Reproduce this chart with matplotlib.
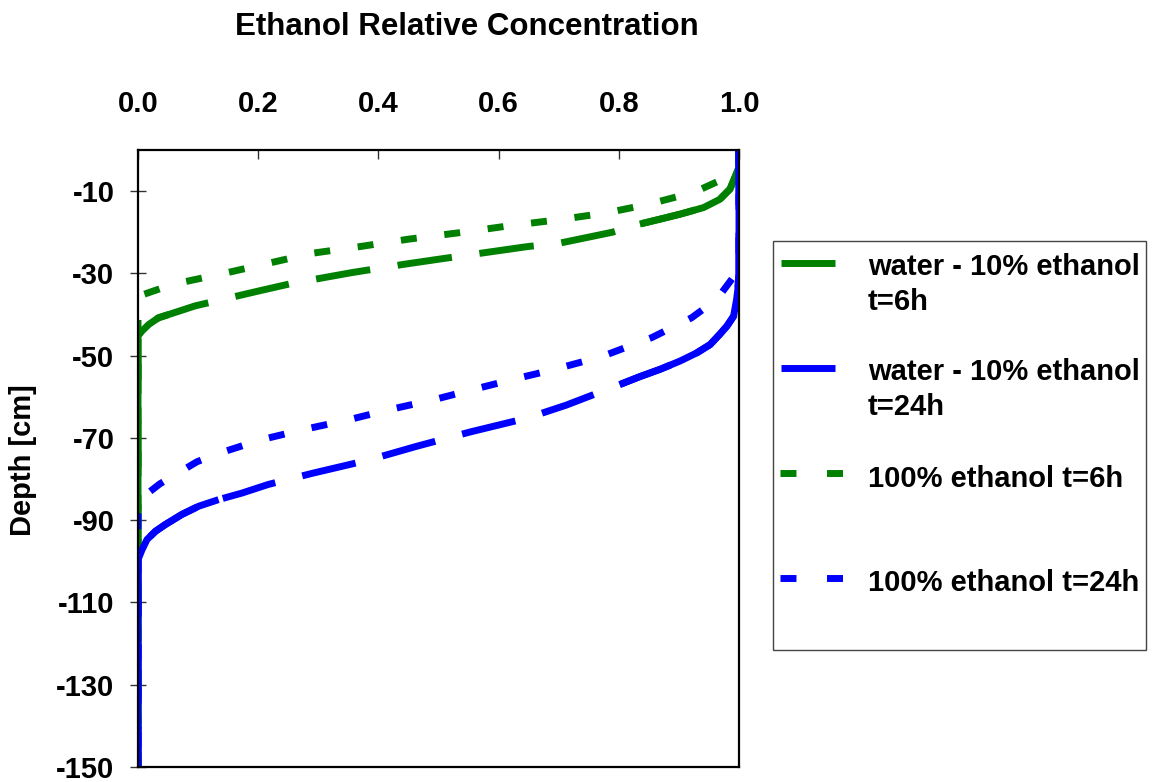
import matplotlib
matplotlib.use("Agg")
import matplotlib.pyplot as plt
from matplotlib.lines import Line2D
from matplotlib.patches import Rectangle
import numpy as np

plt.rcParams['font.family'] = ['Liberation Sans', 'DejaVu Sans']
plt.rcParams['font.weight'] = 'bold'
plt.rcParams['axes.unicode_minus'] = False

# concentration profiles (relative concentration vs depth in cm)
water6_conc = [1.0, 1.0, 0.993, 0.985, 0.968, 0.941, 0.902, 0.869, 0.835, 0.789, 0.703,
               0.647, 0.498, 0.442, 0.356, 0.257, 0.2, 0.095, 0.051, 0.034, 0.018,
               0.0067, 0.0, 0.0]
water6_depth = [0, -4.2, -6.7, -9.5, -12.0, -14.0, -15.6, -16.8, -18.0, -20.0, -22.6,
                -23.5, -26.6, -27.8, -29.8, -32.4, -34.3, -37.9, -40.0, -40.8, -42.4,
                -44.0, -45.2, -150]

eth6_conc = [1.0, 1.0, 0.99, 0.985, 0.925, 0.849, 0.779, 0.703, 0.624, 0.535, 0.449,
             0.373, 0.29, 0.209, 0.137, 0.059, 0.0095, 0.004, 0.0, 0.0]
eth6_depth = [0, -3.5, -5.1, -6.3, -10.3, -13.2, -15.3, -16.9, -18.3, -20.1, -21.7,
              -23.4, -25.1, -27.8, -30.2, -32.6, -35.1, -37.1, -37.9, -150]

water24_conc = [1.0, 1.0, 0.998, 0.996, 0.991, 0.98, 0.968, 0.952, 0.93, 0.902, 0.869,
                0.835, 0.802, 0.713, 0.647, 0.554, 0.462, 0.383, 0.29, 0.217, 0.173,
                0.134, 0.101, 0.073, 0.045, 0.029, 0.015, 0.0067, 0.0, 0.0]
water24_depth = [0, -30, -34, -36.3, -40.4, -42.8, -44.8, -47.3, -49.3, -51.3, -53.3,
                 -55.1, -57.0, -62.0, -65.2, -68.5, -72.1, -75.4, -78.6, -81.3, -83.4,
                 -85.0, -86.6, -88.6, -91.1, -92.7, -94.7, -97.2, -99.6, -150]

eth24_conc = [1.0, 1.0, 0.996, 0.988, 0.963, 0.921, 0.855, 0.772, 0.686, 0.634, 0.561,
              0.495, 0.416, 0.35, 0.274, 0.206, 0.133, 0.098, 0.036, 0.007, 0.0, 0.0]
eth24_depth = [0, -29, -29.8, -31.4, -36.3, -40.8, -45.6, -50.2, -53.6, -55.4, -58.1,
               -60.6, -63.2, -65.6, -68.0, -70.4, -73.8, -75.8, -81.2, -84.5, -85.5, -150]

labels = [["water - 10% ethanol", "t=6h"],
          ["water - 10% ethanol", "t=24h"],
          ["100% ethanol t=6h"],
          ["100% ethanol t=24h"]]

x_ticks = [0.0, 0.2, 0.4, 0.6, 0.8, 1.0]
y_ticks = [-10, -30, -50, -70, -90, -110, -130, -150]

W, H = 1157, 782
fig = plt.figure(figsize=(W / 100, H / 100), dpi=100)
ax = fig.add_axes([138 / W, 1 - 767 / H, (739 - 138) / W, (767 - 150) / H])

GREEN = '#008000'
BLUE = '#0000ff'
LW = 5
long_dash = (7.9, 4.0)
short_dash = (2.3, 4.0)

# (conc, depth, colour, dash pattern, range of conc drawn continuous at each end)
series = [
    (water6_conc, water6_depth, GREEN, long_dash, (0.053, 0.835)),
    (eth6_conc, eth6_depth, GREEN, short_dash, None),
    (water24_conc, water24_depth, BLUE, long_dash, (0.134, 0.80)),
    (eth24_conc, eth24_depth, BLUE, short_dash, None),
]

for conc, depth, color, dash, solid_ends in series:
    c = np.array(conc)
    d = np.array(depth)
    ax.plot(c, d, color=color, lw=LW, dashes=dash, dash_capstyle='butt',
            solid_capstyle='butt')
    if solid_ends is not None:
        lo, hi = solid_ends
        for m in (c <= lo, c >= hi):
            ax.plot(c[m], d[m], color=color, lw=LW, solid_capstyle='butt',
                    solid_joinstyle='round')

ax.set_xlim(0, 1)
ax.set_ylim(-150, 0)
ax.set_xticks(x_ticks)
ax.set_xticklabels([f"{v:.1f}" for v in x_ticks])
ax.set_yticks(y_ticks)
ax.xaxis.tick_top()
ax.tick_params(axis='x', direction='in', length=6.5, width=1.0, pad=23,
               labelsize=21, colors='#333333', labelcolor='black')
ax.tick_params(axis='y', direction='inout', length=12, width=1.0, pad=11,
               labelsize=21, colors='#333333', labelcolor='black')
for s in ax.spines.values():
    s.set_linewidth(1.6)
    s.set_color('black')

fig.text(467 / W, 1 - 35 / H, "Ethanol Relative Concentration", fontsize=22.5,
         ha='center', va='baseline')
fig.text(23 / W, 1 - 460 / H, "Depth [cm]", fontsize=21, rotation=90,
         ha='center', va='center')

# legend box
fig.add_artist(Rectangle((773 / W, 1 - 650 / H), (1146 - 773) / W, (650 - 241) / H,
                         transform=fig.transFigure, fill=False,
                         edgecolor='#444444', lw=1.0))
handle_styles = [(GREEN, None), (BLUE, None), (GREEN, (2.3, 4.4)), (BLUE, (2.3, 4.4))]
handle_y = [263, 368, 473, 578]
text_base = [[275, 310], [380, 415], [487], [591]]
for (color, dash), hy, lines, bases in zip(handle_styles, handle_y, labels, text_base):
    x1, x2 = (781, 835) if dash is None else (780, 843)
    ln = Line2D([x1 / W, x2 / W], [1 - hy / H, 1 - hy / H], transform=fig.transFigure,
                color=color, lw=LW, solid_capstyle='butt', dash_capstyle='butt')
    if dash is not None:
        ln.set_dashes(dash)
    fig.add_artist(ln)
    for line, b in zip(lines, bases):
        fig.text(868 / W, 1 - b / H, line, fontsize=21, ha='left', va='baseline')

fig.savefig("out.png", dpi=100)
